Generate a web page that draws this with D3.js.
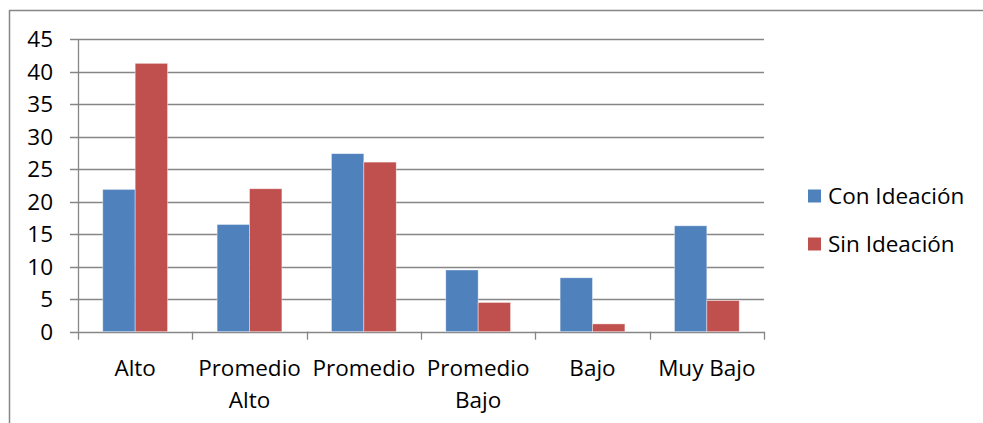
<!DOCTYPE html>
<html><head><meta charset="utf-8">
<script src="https://cdn.jsdelivr.net/npm/d3@7"></script>
<style>body{margin:0;background:#fff}svg{display:block}text{font-family:"Open Sans",sans-serif;fill:#000}</style>
</head><body>
<svg id="c" width="983" height="423"></svg>
<script>
const categories = [["Alto"], ["Promedio", "Alto"], ["Promedio"], ["Promedio", "Bajo"], ["Bajo"], ["Muy Bajo"]];
const seriesNames = ["Con Ideación", "Sin Ideación"];
const conIdeacion = [21.9, 16.5, 27.4, 9.5, 8.3, 16.3];
const sinIdeacion = [41.3, 22.0, 26.1, 4.5, 1.2, 4.8];
const yTicks = [0, 5, 10, 15, 20, 25, 30, 35, 40, 45];
const colors = ["#4F81BD", "#C0504D"];

const svg = d3.select("#c");
const fs = 22.5;
// outer frame (partially cropped)
svg.append("path").attr("d", "M9.5,423 V10.5 H983").attr("fill", "none").attr("stroke", "#868686").attr("stroke-width", 1.5);

const L = 78, R = 764, T = 39.3, B = 331.7;
const idx = d3.range(categories.length);
const x = d3.scaleBand().domain(idx).range([L, R]).paddingInner(0).paddingOuter(0);
const y = d3.scaleLinear().domain([0, 45]).range([B, T]);
const bw = 32.4;
const xs = d3.scaleBand().domain([0, 1]).range([0, bw * 2]);

const g = svg.append("g");
// gridlines
g.selectAll(".grid").data(yTicks).join("line")
  .attr("x1", L - 8).attr("x2", R).attr("y1", d => Math.round(y(d)) + 0.5).attr("y2", d => Math.round(y(d)) + 0.5)
  .attr("stroke", "#868686").attr("stroke-width", 1.3);

// bars
const data = [conIdeacion, sinIdeacion];
data.forEach((vals, s) => {
  g.selectAll(".b" + s).data(vals).join("rect")
    .attr("x", (d, i) => x(i) + (x.bandwidth() - bw * 2) / 2 + xs(s))
    .attr("width", xs.bandwidth())
    .attr("y", d => y(d))
    .attr("height", d => y(0) - y(d))
    .attr("fill", colors[s])
    .attr("stroke", "rgba(255,255,255,0.5)").attr("stroke-width", 0.8);
});

// y axis line
g.append("line").attr("x1", L + 0.5).attr("x2", L + 0.5).attr("y1", T).attr("y2", B)
  .attr("stroke", "#868686").attr("stroke-width", 1.3);
// x axis ticks
const xt = idx.map(i => x(i)).concat([R]);
g.selectAll(".xt").data(xt).join("line")
  .attr("x1", d => Math.round(d) + 0.5).attr("x2", d => Math.round(d) + 0.5)
  .attr("y1", B).attr("y2", B + 8)
  .attr("stroke", "#868686").attr("stroke-width", 1.3);

// y labels
g.selectAll(".yl").data(yTicks).join("text")
  .attr("x", 53).attr("y", d => y(d)).attr("dy", "0.36em")
  .attr("text-anchor", "end").attr("font-size", fs).text(d => d);

// x labels
categories.forEach((lines, i) => {
  const t = g.append("text").attr("text-anchor", "middle").attr("font-size", fs);
  lines.forEach((ln, k) => {
    t.append("tspan").attr("x", x(i) + x.bandwidth() / 2).attr("y", 376 + k * 32).text(ln);
  });
});

// legend
seriesNames.forEach((n, s) => {
  const ly = 196 + s * 48;
  svg.append("rect").attr("x", 808).attr("y", ly - 6.5).attr("width", 13).attr("height", 13).attr("fill", colors[s]);
  svg.append("text").attr("x", 828).attr("y", ly).attr("dy", "0.36em").attr("font-size", fs).text(n);
});
</script>
</body></html>
